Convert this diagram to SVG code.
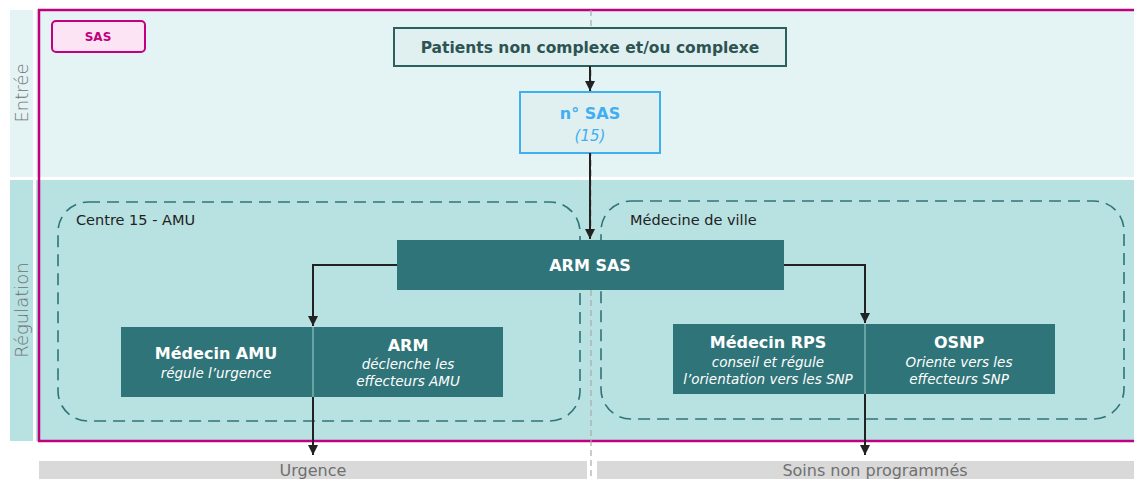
<svg xmlns="http://www.w3.org/2000/svg" width="1134" height="479" viewBox="0 0 1134 479">
<defs>
<marker id="arr" viewBox="0 0 10 10" refX="10" refY="5" markerWidth="10" markerHeight="10" markerUnits="userSpaceOnUse" orient="auto">
<path d="M0,0 L10,5 L0,10 Z" fill="#222"/>
</marker>
<style>
.lane{font-family:"DejaVu Sans","Liberation Sans",sans-serif;font-size:18px;fill:#707070;font-weight:200}
.grp{font-family:"DejaVu Sans","Liberation Sans",sans-serif;font-size:14.5px;fill:#222}
.dk{fill:#2f7478}
.w{font-family:"DejaVu Sans","Liberation Sans",sans-serif;fill:#fff;text-anchor:middle}
.b{font-weight:bold;font-size:16px}
.i{font-style:italic;font-size:13.5px}
.cont{fill:none;stroke:#2f7478;stroke-width:1.6;stroke-dasharray:12,7}
.conn{fill:none;stroke:#222;stroke-width:2;marker-end:url(#arr)}
.bar{fill:#d9d9d9}
.bartxt{font-family:"DejaVu Sans","Liberation Sans",sans-serif;font-size:16px;fill:#707070;text-anchor:middle}
</style>
</defs>
<rect width="1134" height="479" fill="#fff"/>
<g id="lane-entree">
<rect x="10" y="10" width="23" height="167" fill="#e4f3f3"/>
<rect x="36" y="10" width="1098" height="167" fill="#e4f3f3"/>
<text class="lane" transform="translate(28,93) rotate(-90)" text-anchor="middle">Entrée</text>
</g>
<g id="lane-regulation">
<rect x="10" y="180" width="23" height="261" fill="#b8e1e1"/>
<rect x="36" y="180" width="1098" height="261" fill="#b8e1e1"/>
<text class="lane" transform="translate(28,310) rotate(-90)" text-anchor="middle">Régulation</text>
</g>
<rect id="frame" x="39" y="10" width="1100" height="431" fill="none" stroke="#c0007f" stroke-width="2.5"/>
<line x1="591" y1="10" x2="591" y2="479" stroke="#aaa" stroke-width="1.2" stroke-dasharray="6,4"/>
<g id="bar-urgence">
<rect class="bar" x="39" y="461" width="548" height="18"/>
<text class="bartxt" x="313" y="476">Urgence</text>
</g>
<g id="bar-snp">
<rect class="bar" x="597" y="461" width="537" height="18"/>
<text class="bartxt" x="875" y="476">Soins non programmés</text>
</g>
<g id="sas-tag">
<rect x="52" y="21" width="93" height="31" rx="4" fill="#fde4f5" stroke="#c0007f" stroke-width="2"/>
<text x="98" y="41" text-anchor="middle" font-family="DejaVu Sans, sans-serif" font-weight="bold" font-size="12" fill="#c0007f">SAS</text>
</g>
<g id="centre15">
<rect class="cont" x="58" y="202" width="522" height="219" rx="30"/>
<text class="grp" x="76" y="225">Centre 15 - AMU</text>
</g>
<g id="medecine-ville">
<rect class="cont" x="601" y="201" width="523" height="218" rx="30"/>
<text class="grp" x="630" y="225">Médecine de ville</text>
</g>
<g id="patients">
<rect x="394" y="28" width="392" height="38" fill="#e0f0f0" stroke="#2c5f5d" stroke-width="2"/>
<text x="590" y="53" text-anchor="middle" font-family="DejaVu Sans, sans-serif" font-weight="bold" font-size="15.5" fill="#2d5452">Patients non complexe et/ou complexe</text>
</g>
<g id="numero-sas">
<rect x="520" y="92" width="140" height="61" fill="#e0f0f0" stroke="#3fb0ef" stroke-width="2"/>
<text x="590" y="119" text-anchor="middle" font-family="DejaVu Sans, sans-serif" font-weight="bold" font-size="16" fill="#40aef0">n° SAS</text>
<text x="590" y="141" text-anchor="middle" font-family="DejaVu Sans, sans-serif" font-style="italic" font-size="15" fill="#40aef0">(15)</text>
</g>
<g id="arm-sas">
<rect class="dk" x="397" y="240" width="387" height="50"/>
<text class="w b" x="590" y="271">ARM SAS</text>
</g>
<g id="amu">
<rect class="dk" x="121" y="327" width="382" height="70"/>
<line x1="313" y1="327" x2="313" y2="397" stroke="#9fd3d3" stroke-width="1"/>
<text class="w b" x="216" y="359">Médecin AMU</text>
<text class="w i" x="216" y="378">régule l’urgence</text>
<text class="w b" x="408" y="351">ARM</text>
<text class="w i" x="408" y="369">déclenche les</text>
<text class="w i" x="408" y="386">effecteurs AMU</text>
</g>
<g id="rps">
<rect class="dk" x="673" y="324" width="382" height="70"/>
<line x1="865" y1="324" x2="865" y2="394" stroke="#9fd3d3" stroke-width="1"/>
<text class="w b" x="768" y="348">Médecin RPS</text>
<text class="w i" x="768" y="367">conseil et régule</text>
<text class="w i" x="768" y="384">l’orientation vers les SNP</text>
<text class="w b" x="959" y="348">OSNP</text>
<text class="w i" x="959" y="367">Oriente vers les</text>
<text class="w i" x="959" y="384">effecteurs SNP</text>
</g>
<g id="connectors">
<path class="conn" d="M590,66 V91"/>
<path class="conn" d="M590,153 V239"/>
<path class="conn" d="M397,265 H313 V326"/>
<path class="conn" d="M784,265 H865 V323"/>
<path class="conn" d="M313,397 V455"/>
<path class="conn" d="M865,394 V455"/>
</g>
</svg>
